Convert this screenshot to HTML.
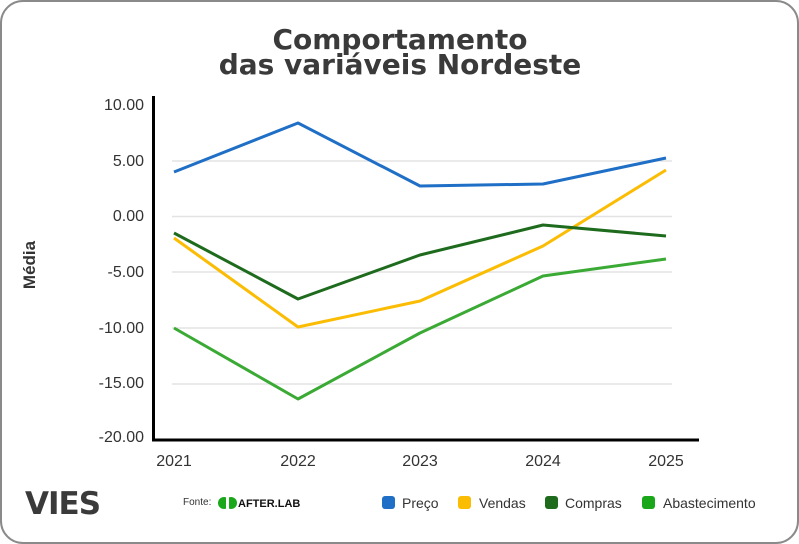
<!DOCTYPE html>
<html><head><meta charset="utf-8"><style>
body{margin:0;background:#fff;}
svg{display:block;font-family:"Liberation Sans",sans-serif;}
</style></head><body>
<svg width="799" height="544" viewBox="0 0 799 544">
<rect x="1" y="1" width="797" height="542" rx="22" fill="#fff" stroke="#8a8a8a" stroke-width="2"/>
<text x="400" y="49" text-anchor="middle" font-size="28" font-weight="bold" fill="#3a3a3a" font-family="DejaVu Sans,sans-serif">Comportamento</text>
<text x="400" y="74" text-anchor="middle" font-size="28" font-weight="bold" fill="#3a3a3a" font-family="DejaVu Sans,sans-serif">das variáveis Nordeste</text>
<g stroke="#e3e3e3" stroke-width="1.5">
<line x1="172" x2="672" y1="161" y2="161"/><line x1="172" x2="672" y1="216.5" y2="216.5"/>
<line x1="172" x2="672" y1="272" y2="272"/><line x1="172" x2="672" y1="328" y2="328"/>
<line x1="172" x2="672" y1="384" y2="384"/>
</g>
<line x1="153.5" y1="96" x2="153.5" y2="441" stroke="#000" stroke-width="3"/>
<line x1="152" y1="440" x2="699" y2="440" stroke="#000" stroke-width="3"/>
<g font-size="16" fill="#333" text-anchor="end">
<text x="144" y="110">10.00</text><text x="144" y="166">5.00</text><text x="144" y="221">0.00</text>
<text x="144" y="277">-5.00</text><text x="144" y="333">-10.00</text><text x="144" y="388">-15.00</text><text x="144" y="442">-20.00</text>
</g>
<g font-size="16" fill="#333" text-anchor="middle">
<text x="174" y="466">2021</text><text x="298" y="466">2022</text><text x="420" y="466">2023</text><text x="543" y="466">2024</text><text x="666" y="466">2025</text>
</g>
<text transform="translate(35,265) rotate(-90)" text-anchor="middle" font-size="17" font-weight="bold" fill="#333">Média</text>
<g fill="none" stroke-width="3" stroke-linejoin="round">
<polyline stroke="#1f6fc6" points="174,172 298,123 420,186 543,184 666,158"/>
<polyline stroke="#fbbc04" points="174,238 298,327 420,301 543,246 666,170"/>
<polyline stroke="#1e6b1e" points="174,233 298,299 420,255 543,225 666,236"/>
<polyline stroke="#3aaa35" points="174,328 298,399 420,333 543,276 666,259"/>
</g>
<text x="25" y="514" font-size="31" font-weight="900" fill="#3a3a3a" font-family="DejaVu Sans,sans-serif" letter-spacing="-1">VIES</text>
<text x="183" y="505" font-size="10" fill="#333">Fonte:</text>
<circle cx="224" cy="503" r="6" fill="#1aa81a"/><circle cx="231" cy="503" r="6" fill="#1aa81a"/><rect x="226" y="497" width="3" height="12" fill="#fff"/>
<text x="238" y="507" font-size="11" font-weight="bold" fill="#111">AFTER.LAB</text>
<g font-size="14" fill="#333">
<rect x="382" y="496" width="13" height="13" rx="3" fill="#1f6fc6"/><text x="402" y="508">Preço</text>
<rect x="458" y="496" width="13" height="13" rx="3" fill="#fbbc04"/><text x="479" y="508">Vendas</text>
<rect x="545" y="496" width="13" height="13" rx="3" fill="#1e6b1e"/><text x="565" y="508">Compras</text>
<rect x="642" y="496" width="13" height="13" rx="3" fill="#1aa81a"/><text x="663" y="508">Abastecimento</text>
</g>
</svg>
</body></html>
